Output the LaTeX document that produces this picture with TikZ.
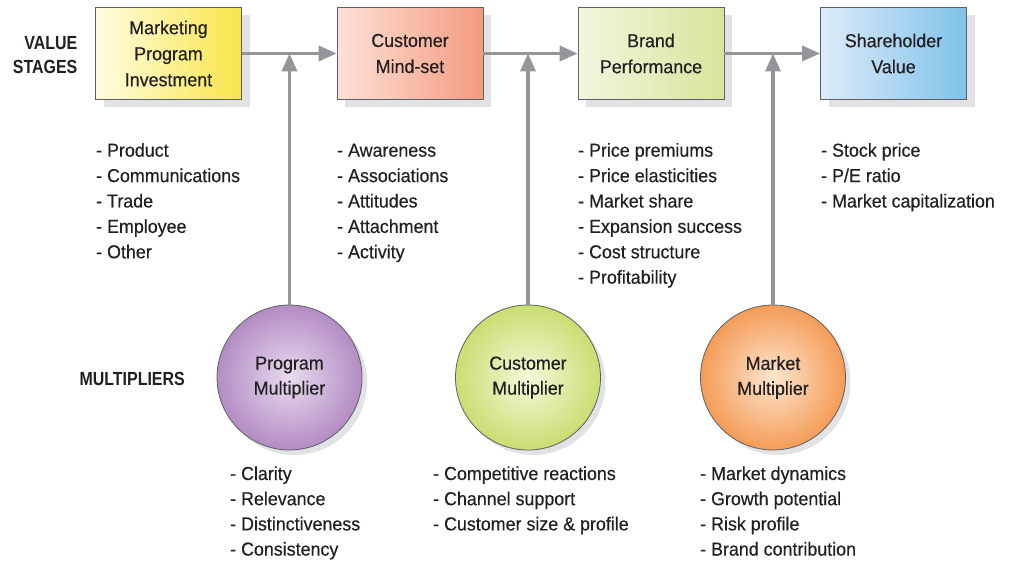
\documentclass[tikz,border=0pt]{standalone}
\usepackage{fontspec}
\setmainfont{Liberation Sans}[FakeStretch=0.95,FakeBold=0.35]
\newfontfamily\hdfont{Liberation Sans}[FakeStretch=0.84]
\usetikzlibrary{arrows.meta,shadows}
\definecolor{txt}{HTML}{231F20}
\definecolor{bord}{HTML}{5F6063}
\definecolor{arrc}{HTML}{939598}
\definecolor{shad}{HTML}{E1E2E4}
\definecolor{yA}{HTML}{FFFCE2}\definecolor{yB}{HTML}{F7E54A}
\definecolor{rA}{HTML}{FDE1D7}\definecolor{rB}{HTML}{F39B80}
\definecolor{gA}{HTML}{F1F6DE}\definecolor{gB}{HTML}{D6E59C}
\definecolor{bA}{HTML}{DDEBF8}\definecolor{bB}{HTML}{80C2EA}
\definecolor{pC}{HTML}{E9DBEF}\definecolor{pE}{HTML}{B38CC3}
\definecolor{lC}{HTML}{F5F9DA}\definecolor{lE}{HTML}{C9DE72}
\definecolor{oC}{HTML}{FDE5CF}\definecolor{oE}{HTML}{F49C57}
\tikzset{
  stagebox/.style={draw=bord, line width=0.8pt, minimum width=146pt, minimum height=92pt,
    inner sep=0pt, align=center, text=txt, font=\fontsize{18.8}{26}\selectfont,
    drop shadow={shadow xshift=8pt, shadow yshift=-8pt, fill=shad, opacity=1}},
  multcirc/.style={circle, draw=bord, line width=0.8pt, minimum size=145pt, inner sep=0pt,
    align=center, text=txt, font=\fontsize{18.8}{25}\selectfont,
    drop shadow={shadow xshift=5pt, shadow yshift=-5pt, fill=shad, opacity=1}},
  arr/.style={draw=arrc, line width=3.5pt, -{Triangle[length=18pt,width=15pt]}},
  item/.style={anchor=base west, inner sep=0pt, text=txt, font=\fontsize{18.8}{25}\selectfont},
  head/.style={anchor=base east, inner sep=0pt, text=txt, font=\hdfont\bfseries\fontsize{19}{24}\selectfont},
}
\begin{document}
\begin{tikzpicture}[x=1pt,y=-1pt]
\useasboundingbox (0,0) rectangle (1009,561);
% value stages
\node[stagebox, left color=yA, right color=yB] (b1) at (168.5,53.5) {Marketing\\Program\\Investment};
\node[stagebox, left color=rA, right color=rB] (b2) at (410,53.5) {Customer\\Mind-set};
\node[stagebox, left color=gA, right color=gB] (b3) at (651,53.5) {Brand\\Performance};
\node[stagebox, left color=bA, right color=bB] (b4) at (893.5,53.5) {Shareholder\\Value};
% multipliers
\node[multcirc, inner color=pC, outer color=pE] (c1) at (289.5,377.5) {Program\\Multiplier};
\node[multcirc, inner color=lC, outer color=lE] (c2) at (528,377.5) {Customer\\Multiplier};
\node[multcirc, inner color=oC, outer color=oE] (c3) at (773,377.5) {Market\\Multiplier};
% arrows
\draw[arr] (b1.east) -- (b2.west);
\draw[arr] (b2.east) -- (b3.west);
\draw[arr] (b3.east) -- (b4.west);
\draw[arr] (c1.north) -- (c1.north |- b1.east);
\draw[arr] (c2.north) -- (c2.north |- b2.east);
\draw[arr] (c3.north) -- (c3.north |- b3.east);
% row labels
\node[head] (vs1) at (77.5,49.3) {VALUE};
\node[head] (vs2) at (77.5,73.3) {STAGES};
\node[head] (ml) at (185,385) {MULTIPLIERS};
% lists
\foreach \t [count=\i] in {Product,Communications,Trade,Employee,Other}
  \node[item] (la\i) at (96,{156.7+25.4*(\i-1)}) {- \t};
\foreach \t [count=\i] in {Awareness,Associations,Attitudes,Attachment,Activity}
  \node[item] (lb\i) at (337,{156.7+25.4*(\i-1)}) {- \t};
\foreach \t [count=\i] in {Price premiums,Price elasticities,Market share,Expansion success,Cost structure,Profitability}
  \node[item] (lc\i) at (578,{156.7+25.4*(\i-1)}) {- \t};
\foreach \t [count=\i] in {Stock price,P/E ratio,Market capitalization}
  \node[item] (ld\i) at (821,{156.7+25.4*(\i-1)}) {- \t};
\foreach \t [count=\i] in {Clarity,Relevance,Distinctiveness,Consistency}
  \node[item] (le\i) at (230,{480+25.2*(\i-1)}) {- \t};
\foreach \t [count=\i] in {Competitive reactions,Channel support,Customer size \& profile}
  \node[item] (lf\i) at (433,{480+25.2*(\i-1)}) {- \t};
\foreach \t [count=\i] in {Market dynamics,Growth potential,Risk profile,Brand contribution}
  \node[item] (lg\i) at (700,{480+25.2*(\i-1)}) {- \t};
\end{tikzpicture}
\end{document}
